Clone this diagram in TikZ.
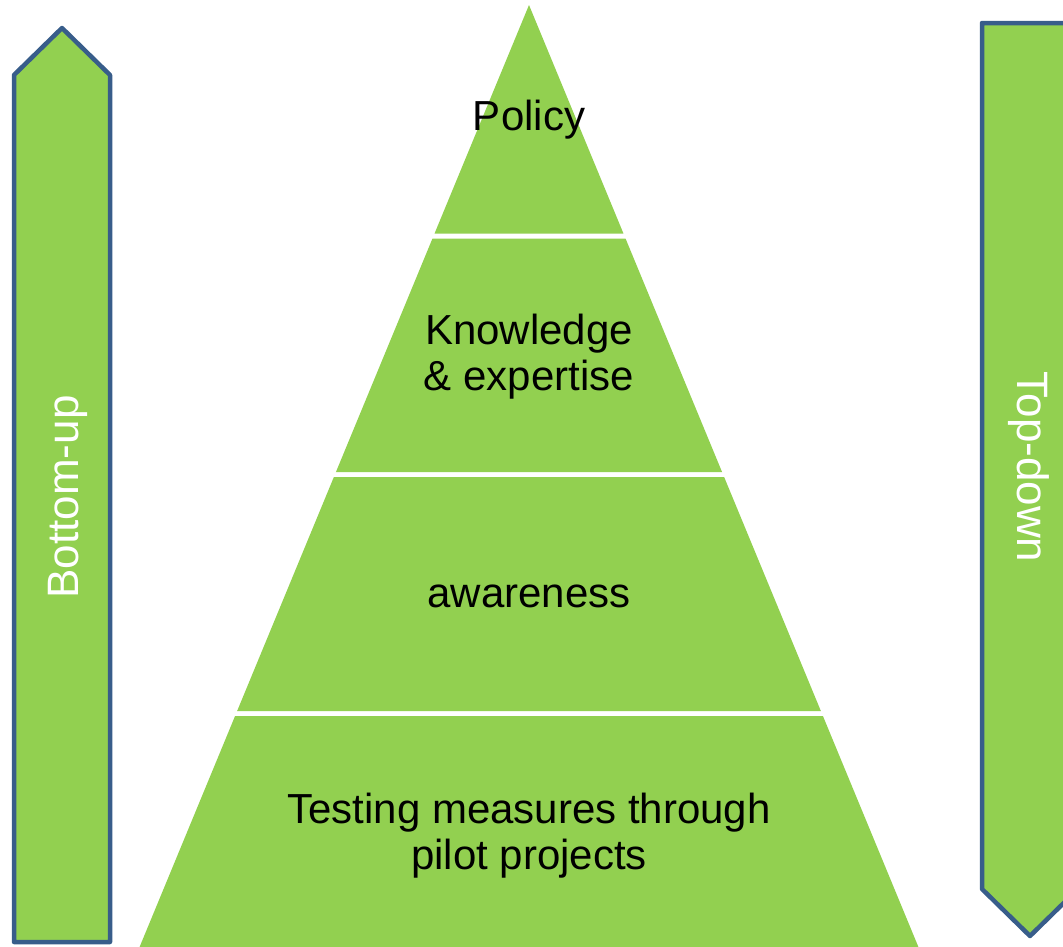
\documentclass[tikz,border=0pt]{standalone}
\usepackage{fontspec}
\setmainfont{Liberation Sans}
\usepackage{tikz}

\definecolor{leafgreen}{HTML}{92D050}
\definecolor{edgeblue}{HTML}{385D8A}

\tikzset{
  level/.style={fill=leafgreen, draw=none},
  levellabel/.style={text=black, align=center, inner sep=0pt, font=\fontsize{42}{46}\selectfont},
  flow/.style={fill=leafgreen, draw=edgeblue, line width=4.5pt, line join=round},
  flowlabel/.style={text=white, inner sep=0pt, font=\fontsize{44}{48}\selectfont}
}

\begin{document}
\begin{tikzpicture}[x=1pt, y=-1pt]
                \useasboundingbox (0,0) rectangle (1063,946);
                \clip (0,0) rectangle (1063,946);
                \def\apex{5}
                \def\slope{0.4134}

                % pyramid, four bands with white gaps
                \foreach \t/\b in {5/233.5, 238.5/472, 477/711, 716/950}
                  \fill[level] ({529-\slope*(\t-\apex)},\t) -- ({529+\slope*(\t-\apex)},\t)
                    -- ({529+\slope*(\b-\apex)},\b) -- ({529-\slope*(\b-\apex)},\b) -- cycle;

                \node[levellabel] (policy) at (529,120) {Policy};
                \node[levellabel] (knowledge) at (529,357) {Knowledge\\\& expertise};
                \node[levellabel] (awareness) at (529,596) {awareness};
                \node[levellabel] (testing) at (529,836) {Testing measures through\\pilot projects};

                % left arrow, pointing up
                \draw[flow] (14,942) -- (14,75) -- (62,28) -- (110,75) -- (110,942) -- cycle;
                \node[flowlabel, rotate=90] (bottomup) at (68,497) {Bottom-up};

                % right arrow, pointing down
                \draw[flow] (982,23) -- (1078,23) -- (1078,889) -- (1030,936) -- (982,889) -- cycle;
                \node[flowlabel, rotate=-90] (topdown) at (1029,467) {Top-down};
            \end{tikzpicture}
\end{document}
